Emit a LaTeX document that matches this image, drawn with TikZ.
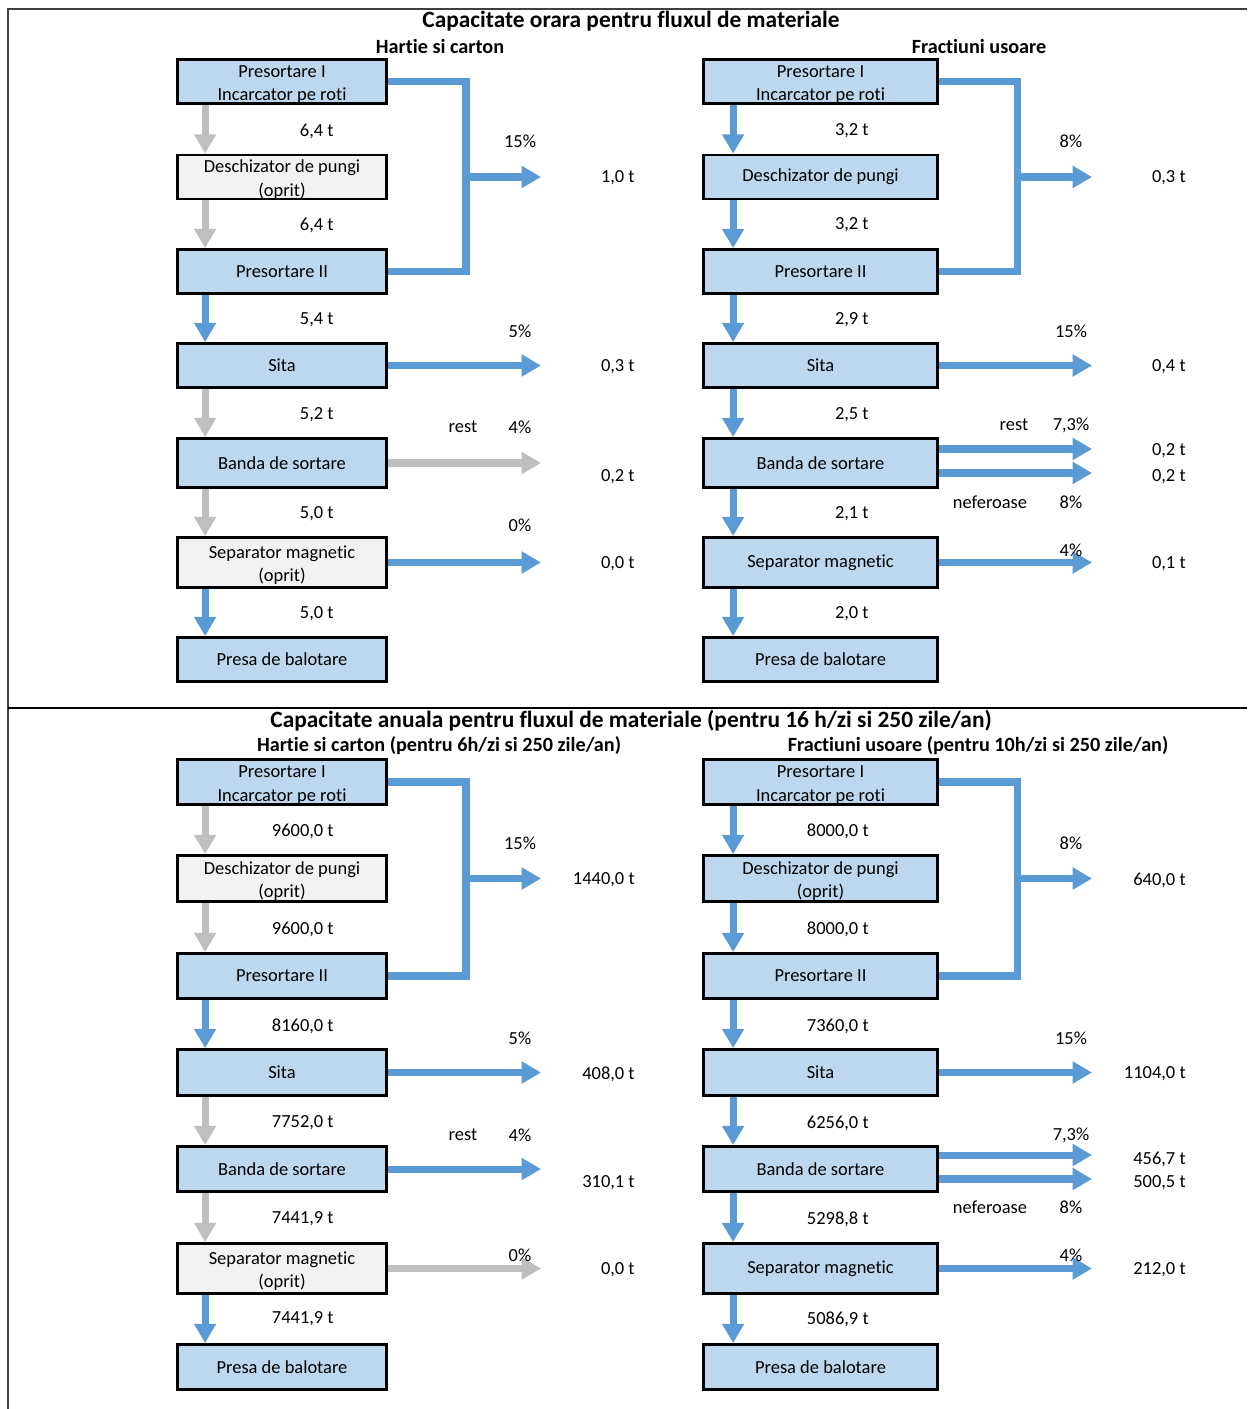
\documentclass[tikz,border=0pt]{standalone}
\usepackage{fontspec}
\setmainfont{Carlito}[Ligatures=NoCommon]
\usetikzlibrary{arrows.meta}
\definecolor{flowblue}{RGB}{91,155,213}
\definecolor{flowgray}{RGB}{191,191,191}
\definecolor{boxblue}{RGB}{189,215,238}
\definecolor{boxgray}{RGB}{242,242,242}
\newcommand{\dl}[1]{\raisebox{-4.25pt}[0pt][0pt]{#1}}
\tikzset{
  box/.style={draw, line width=1.6pt, fill=boxblue, minimum width=4.18cm, minimum height=0.88cm, align=center, inner sep=1pt, font=\fontsize{10.5}{13.6}\selectfont},
  wbox/.style={box, minimum width=4.68cm},
  off/.style={fill=boxgray},
  flow/.style={line width=4pt, flowblue, -{Triangle[length=11pt, width=12pt]}},
  flowoff/.style={flow, flowgray},
  pipe/.style={line width=4pt, flowblue, line join=miter},
  lbl/.style={font=\fontsize{10.5}{12}\selectfont, inner sep=0pt},
  ttl/.style={font=\bfseries\fontsize{13.3}{15}\selectfont, inner sep=0pt},
  sub/.style={font=\bfseries\fontsize{11.5}{13}\selectfont, inner sep=0pt},
}
\begin{document}
\begin{tikzpicture}[x=0.02cm, y=-0.02cm]
  \useasboundingbox (0,0) rectangle (1247,1409);
  % frame
  \draw[line width=1pt, black!75] (8,1409) -- (8,9) -- (1247,9);
  \draw[line width=1.6pt] (8,708) -- (1247,708);

  % ---------- hourly capacity ----------
  \node[ttl] (t1) at (631,21) {Capacitate orara pentru fluxul de materiale};
  \node[sub] (s1) at (440,46) {Hartie si carton};
  \node[sub] (s2) at (979,46) {Fractiuni usoare};

  % paper and cardboard
  \node[box] (a1) at (282,81.5) {\dl{Presortare I}\\\dl{Incarcator pe roti}};
  \node[box, off] (a2) at (282,177) {\dl{Deschizator de pungi}\\\dl{(oprit)}};
  \node[box] (a3) at (282,271.5) {Presortare II};
  \node[box] (a4) at (282,365.5) {Sita};
  \node[box, minimum height=0.98cm] (a5) at (282,463) {Banda de sortare};
  \node[box, off, minimum height=1cm] (a6) at (282,562.5) {\dl{Separator magnetic}\\\dl{(oprit)}};
  \node[box] (a7) at (282,659.5) {Presa de balotare};
  \foreach \i/\j/\c in {1/2/flowoff,2/3/flowoff,3/4/flow,4/5/flowoff,5/6/flowoff,6/7/flow}
    \draw[\c] ([xshift=5.8mm]a\i.south west) -- ([xshift=5.8mm]a\j.north west);
  \coordinate (ka) at (466,0);
  \coordinate (ea) at (541,0);
  \draw[pipe] (a1.east) -- (a1.east -| ka) -- (a3.east -| ka) -- (a3.east);
  \draw[flow] (a2.east -| ka) -- (a2.east -| ea);
  \draw[flow] (a4.east) -- (a4.east -| ea);
  \draw[flowoff] (a5.east) -- (a5.east -| ea);
  \draw[flow] (a6.east) -- (a6.east -| ea);
  \foreach \y/\t in {131/{6,4 t},225/{6,4 t},320/{5,4 t},415/{5,2 t},514/{5,0 t},614/{5,0 t}}
    \node[lbl, anchor=east] (fa\y) at (334,\y) {\t};
  \foreach \y/\t in {141/15\%,331/5\%,427/4\%,525/0\%}
    \node[lbl] (pa\y) at (520,\y) {\t};
  \foreach \y/\t in {178/{1,0 t},367/{0,3 t},477/{0,2 t},564/{0,0 t}}
    \node[lbl, anchor=east] (oa\y) at (635,\y) {\t};
  \node[lbl] (ra) at (463,427) {rest};

  % light fractions
  \node[wbox] (b1) at (820.5,81.5) {\dl{Presortare I}\\\dl{Incarcator pe roti}};
  \node[wbox] (b2) at (820.5,177) {Deschizator de pungi};
  \node[wbox] (b3) at (820.5,271.5) {Presortare II};
  \node[wbox] (b4) at (820.5,365.5) {Sita};
  \node[wbox, minimum height=0.98cm] (b5) at (820.5,463) {Banda de sortare};
  \node[wbox, minimum height=1cm] (b6) at (820.5,562.5) {Separator magnetic};
  \node[wbox] (b7) at (820.5,659.5) {Presa de balotare};
  \foreach \i/\j in {1/2,2/3,3/4,4/5,5/6,6/7}
    \draw[flow] ([xshift=6.2mm]b\i.south west) -- ([xshift=6.2mm]b\j.north west);
  \coordinate (kb) at (1017,0);
  \coordinate (eb) at (1092,0);
  \draw[pipe] (b1.east) -- (b1.east -| kb) -- (b3.east -| kb) -- (b3.east);
  \draw[flow] (b2.east -| kb) -- (b2.east -| eb);
  \draw[flow] (b4.east) -- (b4.east -| eb);
  \draw[flow] ([yshift=2.8mm]b5.east) -- ([yshift=2.8mm]b5.east -| eb);
  \draw[flow] ([yshift=-2mm]b5.east) -- ([yshift=-2mm]b5.east -| eb);
  \draw[flow] (b6.east) -- (b6.east -| eb);
  \foreach \y/\t in {131/{3,2 t},225/{3,2 t},320/{2,9 t},415/{2,5 t},514/{2,1 t},614/{2,0 t}}
    \node[lbl, anchor=east] (fb\y) at (869,\y) {\t};
  \foreach \y/\t in {141/8\%,331/15\%,425/{7,3\%},502/8\%,550/4\%}
    \node[lbl] (pb\y) at (1071,\y) {\t};
  \foreach \y/\t in {178/{0,3 t},367/{0,4 t},451/{0,2 t},477/{0,2 t},564/{0,1 t}}
    \node[lbl, anchor=east] (ob\y) at (1186,\y) {\t};
  \node[lbl] (rb) at (1014,425) {rest};
  \node[lbl] (nb) at (990,502) {neferoase};

  % ---------- annual capacity ----------
  \node[ttl] (t2) at (631,721) {Capacitate anuala pentru fluxul de materiale (pentru 16 h/zi si 250 zile/an)};
  \node[sub] (s3) at (439,746) {Hartie si carton (pentru 6h/zi si 250 zile/an)};
  \node[sub] (s4) at (978,746) {Fractiuni usoare (pentru 10h/zi si 250 zile/an)};

  % paper and cardboard
  \node[box, minimum height=0.9cm] (c1) at (282,782) {\dl{Presortare I}\\\dl{Incarcator pe roti}};
  \node[box, off, minimum height=0.92cm] (c2) at (282,878.5) {\dl{Deschizator de pungi}\\\dl{(oprit)}};
  \node[box, minimum height=0.9cm] (c3) at (282,976) {Presortare II};
  \node[box, minimum height=0.92cm] (c4) at (282,1072.5) {Sita};
  \node[box, minimum height=0.9cm] (c5) at (282,1169) {Banda de sortare};
  \node[box, off, minimum height=1cm] (c6) at (282,1268.5) {\dl{Separator magnetic}\\\dl{(oprit)}};
  \node[box, minimum height=0.9cm] (c7) at (282,1367) {Presa de balotare};
  \foreach \i/\j/\c in {1/2/flowoff,2/3/flowoff,3/4/flow,4/5/flowoff,5/6/flowoff,6/7/flow}
    \draw[\c] ([xshift=5.8mm]c\i.south west) -- ([xshift=5.8mm]c\j.north west);
  \draw[pipe] (c1.east) -- (c1.east -| ka) -- (c3.east -| ka) -- (c3.east);
  \draw[flow] (c2.east -| ka) -- (c2.east -| ea);
  \draw[flow] (c4.east) -- (c4.east -| ea);
  \draw[flow] (c5.east) -- (c5.east -| ea);
  \draw[flowoff] (c6.east) -- (c6.east -| ea);
  \foreach \y/\t in {831/{9600,0 t},929/{9600,0 t},1026/{8160,0 t},1123/{7752,0 t},1219/{7441,9 t},1319/{7441,9 t}}
    \node[lbl, anchor=east] (fc\y) at (334,\y) {\t};
  \foreach \y/\t in {843/15\%,1038/5\%,1135/4\%,1255/0\%}
    \node[lbl] (pc\y) at (520,\y) {\t};
  \foreach \y/\t in {880/{1440,0 t},1074/{408,0 t},1183/{310,1 t},1270/{0,0 t}}
    \node[lbl, anchor=east] (oc\y) at (635,\y) {\t};
  \node[lbl] (rc) at (463,1135) {rest};

  % light fractions
  \node[wbox, minimum height=0.9cm] (d1) at (820.5,782) {\dl{Presortare I}\\\dl{Incarcator pe roti}};
  \node[wbox, minimum height=0.92cm] (d2) at (820.5,878.5) {\dl{Deschizator de pungi}\\\dl{(oprit)}};
  \node[wbox, minimum height=0.9cm] (d3) at (820.5,976) {Presortare II};
  \node[wbox, minimum height=0.92cm] (d4) at (820.5,1072.5) {Sita};
  \node[wbox, minimum height=0.9cm] (d5) at (820.5,1169) {Banda de sortare};
  \node[wbox, minimum height=1cm] (d6) at (820.5,1268.5) {Separator magnetic};
  \node[wbox, minimum height=0.9cm] (d7) at (820.5,1367) {Presa de balotare};
  \foreach \i/\j in {1/2,2/3,3/4,4/5,5/6,6/7}
    \draw[flow] ([xshift=6.2mm]d\i.south west) -- ([xshift=6.2mm]d\j.north west);
  \draw[pipe] (d1.east) -- (d1.east -| kb) -- (d3.east -| kb) -- (d3.east);
  \draw[flow] (d2.east -| kb) -- (d2.east -| eb);
  \draw[flow] (d4.east) -- (d4.east -| eb);
  \draw[flow] ([yshift=2.8mm]d5.east) -- ([yshift=2.8mm]d5.east -| eb);
  \draw[flow] ([yshift=-2mm]d5.east) -- ([yshift=-2mm]d5.east -| eb);
  \draw[flow] (d6.east) -- (d6.east -| eb);
  \foreach \y/\t in {831/{8000,0 t},929/{8000,0 t},1026/{7360,0 t},1123/{6256,0 t},1219/{5298,8 t},1319/{5086,9 t}}
    \node[lbl, anchor=east] (fd\y) at (869,\y) {\t};
  \foreach \y/\t in {843/8\%,1038/15\%,1135/{7,3\%},1207/8\%,1255/4\%}
    \node[lbl] (pd\y) at (1071,\y) {\t};
  \foreach \y/\t in {880/{640,0 t},1074/{1104,0 t},1159/{456,7 t},1183/{500,5 t},1270/{212,0 t}}
    \node[lbl, anchor=east] (od\y) at (1186,\y) {\t};
  \node[lbl] (nd) at (990,1207) {neferoase};
\end{tikzpicture}
\end{document}
